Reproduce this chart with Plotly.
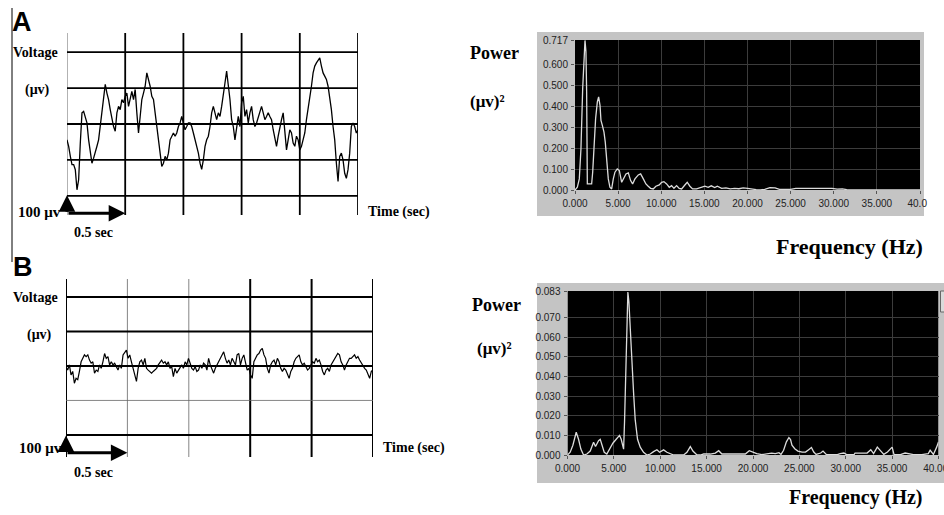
import numpy as np
import plotly.graph_objects as go

W, H = 944, 515

# ---------------- data ----------------
# EEG traces (display amplitude units: one grid step = 100), 2.5 s window
eeg_duration_s = 2.5
eeg_a_amp = [-44, -62, -90, -113, -113, -127, -183, -155, -53, 31,
             35, 21, 3, -44, -81, -109, -95, -81, -62, -44,
             -7, 40, 77, 110, 86, 68, 40, 12, -7, -20,
             31, 49, 40, 68, 59, 77, 86, 49, 68, 91,
             68, 96, 31, -25, 21, 68, 86, 105, 142, 124,
             105, 77, 68, 31, -7, -44, -81, -118, -109, -90,
             -100, -81, -44, -34, -25, -34, -25, -7, 3, 21,
             3, -16, -7, 3, 3, -7, -25, -44, -62, -81,
             -109, -126, -100, -62, -44, -34, -7, 31, 49, 31,
             12, 31, 21, 49, 77, 114, 147, 114, 68, 12,
             -7, -44, -7, 21, -7, 59, 77, 21, 40, 3,
             31, 49, 12, -7, 3, 21, 31, 49, 31, 12,
             21, 31, 21, 12, -16, -44, -62, -34, -7, 12,
             31, -25, -72, -44, -16, -25, -53, -62, -34, -44,
             -72, -62, -44, -25, 12, 40, 68, 105, 142, 161,
             170, 179, 184, 161, 142, 133, 124, 105, 77, 40,
             -7, -44, -109, -160, -90, -81, -100, -137, -151, -127,
             -81, -7, 3, -7, -25, -16]
eeg_b_amp = [-2, -12, 3, -26, -16, -50, -36, -40, -16, 12,
             22, 32, 27, 32, 17, 8, 12, -21, -12, -16,
             3, -7, 12, 36, 22, 27, 3, 12, 3, 8,
             -2, -12, 3, -7, 32, 41, 46, 22, 32, 12,
             -7, -26, -45, -7, 12, 17, 3, 22, -7, -12,
             -16, -21, -16, -12, -7, 3, 12, 17, 8, 12,
             3, 12, -7, -2, -31, -7, -21, -12, -2, 3,
             -7, 12, 3, 22, 8, -7, -12, -2, -16, -12,
             3, -7, 8, 3, -12, 22, 3, -7, -21, -7,
             3, 12, 22, 32, 41, 22, 8, 17, 3, 22,
             12, 3, 32, 36, 3, 22, 32, 12, -12, -7,
             -26, -36, 12, 22, 32, 36, 46, 51, 32, 22,
             -7, -21, 3, 12, 17, 3, 22, 12, -7, -16,
             -7, -12, -26, -36, -16, -7, 12, 22, 27, 32,
             12, 3, 8, -2, -12, -7, 3, 12, 8, 22,
             12, 17, 3, -16, -26, -12, -7, -16, 3, 12,
             22, 27, 36, 32, 12, 3, -12, 3, 12, 22,
             22, 27, 32, 22, 27, 17, 8, 3, -7, -12,
             -26, -36, -16, -12]
eeg_a_time = np.linspace(0, eeg_duration_s, len(eeg_a_amp))
eeg_b_time = np.linspace(0, eeg_duration_s, len(eeg_b_amp))

time_grid = [0, 0.5, 1.0, 1.5, 2.0, 2.5]
amp_grid = [-200, -100, 0, 100, 200]
scale_bar_time = 0.5
scale_bar_amp = 50

# Power spectra
spec_a_freq = [0, 0.27, 0.50, 0.69, 0.89, 1.04, 1.16, 1.27, 1.35, 1.43,
               1.66, 1.93, 2.05, 2.20, 2.39, 2.59, 2.74, 2.90, 3.01, 3.17,
               3.36, 3.51, 3.67, 3.86, 4.05, 4.25, 4.44, 4.63, 4.90, 5.14,
               5.41, 5.60, 5.91, 6.18, 6.45, 6.68, 6.95, 7.34, 7.61, 7.92,
               8.22, 8.49, 8.76, 9.07, 9.38, 9.77, 10.04, 10.31, 10.62, 10.93,
               11.20, 11.47, 11.78, 12.08, 12.36, 12.74, 13.01, 13.32, 13.63, 14.09,
               14.67, 15.06, 15.44, 15.8, 16.2, 16.5, 17.0, 17.5, 18.0, 18.5,
               19.0, 19.5, 20.0, 20.5, 21.0, 21.5, 22.0, 22.6, 23.2, 23.7,
               24.3, 25.0, 25.6, 26.5, 27.5, 28.5, 29.2, 29.8, 30.4, 31.0,
               31.5, 32.5, 33.5, 35.0, 40.0]
spec_a_power = [0, 0.013, 0.053, 0.197, 0.485, 0.597, 0.715, 0.661, 0.469, 0.029,
                0.029, 0.029, 0.085, 0.229, 0.341, 0.421, 0.445, 0.405, 0.333, 0.309,
                0.277, 0.229, 0.133, 0.053, 0.013, 0.005, 0.053, 0.085, 0.101, 0.093,
                0.037, 0.053, 0.077, 0.082, 0.045, 0.029, 0.053, 0.072, 0.077, 0.053,
                0.029, 0.018, 0.008, 0.005, 0.018, 0.024, 0.037, 0.040, 0.029, 0.013,
                0.021, 0.008, 0.021, 0.008, 0.005, 0.024, 0.037, 0.018, 0.005, 0.005,
                0.013, 0.018, 0.013, 0.020, 0.012, 0.018, 0.008, 0.010, 0.005, 0.008,
                0.006, 0.010, 0.008, 0.004, 0.002, 0.001, 0.003, 0.011, 0.010, 0.003,
                0.002, 0.003, 0.008, 0.008, 0.007, 0.008, 0.006, 0.008, 0.004, 0.005,
                0.002, 0.002, 0.001, 0.000, 0.000]
spec_b_freq = [0, 0.29, 0.58, 0.94, 1.19, 1.44, 1.73, 2.09, 2.45, 2.81,
               3.02, 3.35, 3.53, 3.71, 3.96, 4.24, 4.53, 4.89, 5.25, 5.61,
               5.79, 5.97, 6.05, 6.15, 6.26, 6.40, 6.51, 6.62, 6.76, 6.94,
               7.12, 7.30, 7.55, 7.84, 8.20, 8.56, 8.92, 9.28, 9.64, 9.93,
               10.36, 10.72, 11.08, 11.44, 12.52, 12.88, 13.24, 13.52, 13.96, 14.32,
               14.68, 15.40, 15.94, 16.30, 16.65, 17.19, 17.91, 18.63, 19.17, 19.6,
               19.9, 20.4, 20.96, 21.5, 22.0, 22.4, 22.8, 23.02, 23.3, 23.6,
               23.87, 24.05, 24.2, 24.5, 24.84, 25.3, 25.66, 26.0, 26.3, 26.55,
               26.8, 27.3, 27.55, 27.9, 28.4, 29.1, 29.4, 29.8, 30.1, 30.9,
               31.0, 32.3, 32.7, 33.0, 33.4, 33.7, 34.1, 34.5, 35.0, 35.2,
               35.9, 36.4, 36.8, 37.3, 38.2, 38.9, 39.1, 39.45, 39.8, 40.0]
spec_b_power = [0, 0.0014, 0.005, 0.0116, 0.008, 0.003, 0, 0.0005, 0.002, 0.0065,
                0.0043, 0.0073, 0.008, 0.005, 0.0014, 0.0005, 0.003, 0.006, 0.008, 0.010,
                0.008, 0.003, 0.003, 0.017, 0.037, 0.068, 0.083, 0.078, 0.063, 0.046,
                0.032, 0.018, 0.008, 0.004, 0.0014, 0, 0.0005, 0.0017, 0.0027, 0.0014,
                0.0026, 0.0014, 0.0005, 0, 0, 0.0014, 0.0043, 0.002, 0, 0,
                0.0005, 0.0005, 0.001, 0.0022, 0.0005, 0.0005, 0.0005, 0.0005, 0.0005, 0.0022,
                0.0015, 0.0007, 0.0002, 0.0007, 0.001, 0.0007, 0.0012, 0.0003, 0.0024, 0.0067,
                0.0089, 0.0079, 0.005, 0.0032, 0.002, 0.0015, 0.0015, 0.0027, 0.0038, 0.0015,
                0.0003, 0.001, 0.002, 0.0003, 0.0002, 0.0002, 0.0007, 0.001, 0.0002, 0.0002,
                0.001, 0.001, 0.0027, 0.0007, 0.004, 0.0024, 0.0003, 0.0015, 0.004, 0.0003,
                0.0002, 0.001, 0.0007, 0.0002, 0.0002, 0.0007, 0.0024, 0.0003, 0.004, 0.0067]

freq_ticks = [0, 5, 10, 15, 20, 25, 30, 35, 40]
freq_ticktext_a = ["0.000", "5.000", "10.000", "15.000", "20.000", "25.000",
                   "30.000", "35.000", "40.0\u00a0\u00a0"]
freq_ticktext_b = ["0.000", "5.000", "10.000", "15.000", "20.000", "25.000",
                   "30.000", "35.000", "40.000"]
power_ticks_a = [0, 0.1, 0.2, 0.3, 0.4, 0.5, 0.6, 0.717]
power_ticktext_a = ["0.000", "0.100", "0.200", "0.300", "0.400", "0.500", "0.600", "0.717"]
power_ticks_b = [0, 0.01, 0.02, 0.03, 0.04, 0.05, 0.06, 0.07, 0.083]
power_ticktext_b = ["0.000", "0.010", "0.020", "0.030", "0.040", "0.050", "0.060", "0.070", "0.083"]

# ---------------- helpers ----------------
def fx(px):
    return px / W

def fy(py):
    return 1 - py / H

SERIF = "Liberation Serif, Times New Roman, serif"
SANS = "Liberation Sans, Arial, sans-serif"
TICKFONT = dict(family="Liberation Sans Narrow, Liberation Sans, Arial", size=10, color="#222222")

fig = go.Figure()
fig.add_trace(go.Scatter(x=eeg_a_time, y=eeg_a_amp, mode="lines", xaxis="x", yaxis="y",
                         line=dict(color="black", width=1.3)))
fig.add_trace(go.Scatter(x=eeg_b_time, y=eeg_b_amp, mode="lines", xaxis="x2", yaxis="y2",
                         line=dict(color="black", width=1.2)))
fig.add_trace(go.Scatter(x=spec_a_freq, y=spec_a_power, mode="lines", xaxis="x3", yaxis="y3",
                         line=dict(color="#dcdcdc", width=1.3)))
fig.add_trace(go.Scatter(x=spec_b_freq, y=spec_b_power, mode="lines", xaxis="x4", yaxis="y4",
                         line=dict(color="#dcdcdc", width=1.3)))

eeg_a_yrange = [-253, 253]
eeg_b_yrange = [-264, 252]
spec_a_yrange = [0, 0.717]
spec_b_yrange = [0, 0.0835]
freq_range = [0, 40]

hidden = dict(visible=False, showgrid=False, zeroline=False, fixedrange=True)

def spec_axis(domain, rng, tickvals, ticktext, anchor):
    return dict(domain=domain, range=rng, anchor=anchor, tickmode="array",
                tickvals=tickvals, ticktext=ticktext, showgrid=True,
                gridcolor="#3c3c3c", gridwidth=1, zeroline=False, showline=False,
                ticks="outside", ticklen=3, tickwidth=1, tickcolor="#555555",
                tickfont=TICKFONT, ticklabelstandoff=1, automargin=False,
                ticklabeloverflow="allow")

fig.update_layout(
    width=W, height=H, margin=dict(l=0, r=0, t=0, b=0, pad=0, autoexpand=False),
    paper_bgcolor="white", plot_bgcolor="rgba(0,0,0,0)", showlegend=False,
    xaxis=dict(domain=[fx(67), fx(358)], range=[0, eeg_duration_s], anchor="y", **hidden),
    yaxis=dict(domain=[fy(215), fy(33)], range=eeg_a_yrange, anchor="x", **hidden),
    xaxis2=dict(domain=[fx(66), fx(373)], range=[0, eeg_duration_s], anchor="y2", **hidden),
    yaxis2=dict(domain=[fy(457), fy(279)], range=eeg_b_yrange, anchor="x2", **hidden),
    xaxis3=spec_axis([fx(575), fx(920)], freq_range, freq_ticks, freq_ticktext_a, "y3"),
    yaxis3=spec_axis([fy(190), fy(40)], spec_a_yrange, power_ticks_a, power_ticktext_a, "x3"),
    xaxis4=spec_axis([fx(567.5), fx(938.5)], freq_range, freq_ticks, freq_ticktext_b, "y4"),
    yaxis4=spec_axis([fy(455), fy(291)], spec_b_yrange, power_ticks_b, power_ticktext_b, "x4"),
)

shapes = []
# left border rule
shapes.append(dict(type="line", xref="paper", yref="paper", x0=fx(12), x1=fx(12),
                   y0=fy(262), y1=fy(8), line=dict(color="black", width=1)))
# grey instrument frames
shapes.append(dict(type="rect", xref="paper", yref="paper", x0=fx(537), x1=fx(924),
                   y0=fy(216), y1=fy(32), fillcolor="#c4c4c4", line=dict(width=0), layer="below"))
shapes.append(dict(type="rect", xref="paper", yref="paper", x0=fx(537), x1=1.02,
                   y0=fy(483), y1=fy(283), fillcolor="#c4c4c4", line=dict(width=0), layer="below"))
shapes.append(dict(type="rect", xref="paper", yref="paper", x0=fx(940.5), x1=1.01,
                   y0=fy(312), y1=fy(291), fillcolor="#dadada",
                   line=dict(color="#666666", width=1), layer="above"))
# black plot areas
shapes.append(dict(type="rect", xref="x3", yref="y3", x0=freq_range[0], x1=freq_range[1],
                   y0=spec_a_yrange[0], y1=spec_a_yrange[1], fillcolor="black",
                   line=dict(width=0), layer="below"))
shapes.append(dict(type="rect", xref="x4", yref="y4", x0=freq_range[0], x1=freq_range[1],
                   y0=spec_b_yrange[0], y1=spec_b_yrange[1], fillcolor="black",
                   line=dict(width=0), layer="below"))

# EEG grids (line weights as printed)
eeg_a_vwidth = [1.0, 1.8, 1.8, 1.8, 1.8, 1.8]
eeg_a_hwidth = [1.8, 1.8, 1.8, 1.8, 1.8]
eeg_b_vwidth = [2.0, 0.8, 0.8, 2.0, 2.0, 2.0]
eeg_b_hwidth = [2.0, 0.8, 2.0, 2.0, 2.0]

def grid(xr, yr, yrange, vw, hw):
    out = []
    for t, w in zip(time_grid, vw):
        out.append(dict(type="line", xref=xr, yref=yr, x0=t, x1=t, y0=yrange[0], y1=yrange[1],
                        line=dict(color="black" if w > 1 else "#666666", width=w), layer="below"))
    for a, w in zip(amp_grid, hw):
        out.append(dict(type="line", xref=xr, yref=yr, x0=0, x1=eeg_duration_s, y0=a, y1=a,
                        line=dict(color="black" if w > 1 else "#666666", width=w), layer="below"))
    return out

shapes += grid("x", "y", eeg_a_yrange, eeg_a_vwidth, eeg_a_hwidth)
shapes += grid("x2", "y2", eeg_b_yrange, eeg_b_vwidth, eeg_b_hwidth)
fig.update_layout(shapes=shapes)

ann = []
# scale-bar arrows
def arrows(xr, yr, base):
    common = dict(xref=xr, yref=yr, axref=xr, ayref=yr, text="", showarrow=True,
                  arrowhead=2, arrowsize=1.1, arrowwidth=3, arrowcolor="black",
                  standoff=0, startstandoff=0)
    return [dict(x=0, y=base + scale_bar_amp, ax=0, ay=base, **common),
            dict(x=scale_bar_time, y=base, ax=0, ay=base, **common)]

ann += arrows("x", "y", -248)
ann += arrows("x2", "y2", -252)

def label(text, px, py, anchor="left", family=SERIF, size=14, weight="bold"):
    return dict(text=text, xref="paper", yref="paper", x=fx(px), y=fy(py),
                xanchor=anchor, yanchor="middle", showarrow=False,
                font=dict(family=family, size=size, color="black", weight=weight))

ann += [
    label("A", 10, 22, family=SANS, size=27),
    label("Voltage", 11, 52, size=14),
    label("(μv)", 23, 90, size=14),
    label("100 μv", 63, 212, anchor="right", size=15),
    label("0.5 sec", 72, 232, size=14),
    label("Time (sec)", 366, 212, size=14),
    label("B", 11, 267, family=SANS, size=27),
    label("Voltage", 11, 297, size=14),
    label("(μv)", 25, 335, size=14),
    label("100 μv", 64, 448, anchor="right", size=15),
    label("0.5 sec", 72, 472, size=14),
    label("Time (sec)", 381, 448, size=14),
    label("Power", 468, 53, size=18),
    label("(μv)²", 468, 102, size=17),
    label("Frequency (Hz)", 925, 247, anchor="right", size=22),
    label("Power", 470, 305, size=18),
    label("(μv)²", 475, 348, size=17),
    label("Frequency (Hz)", 925, 497, anchor="right", size=20),
]
fig.update_layout(annotations=ann)

fig.write_html("out.html",
               config={"displayModeBar": False},
               post_script="document.body.style.margin='0';document.body.style.overflow='hidden';")
